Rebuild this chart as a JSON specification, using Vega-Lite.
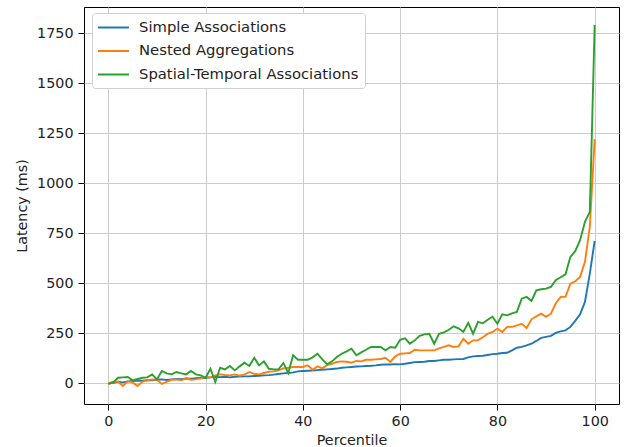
{
  "$schema": "https://vega.github.io/schema/vega-lite/v6.json",
  "width": 535,
  "height": 397,
  "autosize": {"type": "none"},
  "padding": {"left": 84, "top": 7, "right": 11, "bottom": 43},
  "background": "white",
  "config": {
    "view": {"stroke": "black", "strokeWidth": 1},
    "font": "DejaVu Sans"
  },
  "data": {
    "values": [
      {"p": 0, "Simple Associations": 0, "Nested Aggregations": 0, "Spatial-Temporal Associations": -3},
      {"p": 1, "Simple Associations": 3, "Nested Aggregations": 8, "Spatial-Temporal Associations": 5},
      {"p": 2, "Simple Associations": 8, "Nested Aggregations": 8, "Spatial-Temporal Associations": 28},
      {"p": 3, "Simple Associations": 5, "Nested Aggregations": -13, "Spatial-Temporal Associations": 30},
      {"p": 4, "Simple Associations": 10, "Nested Aggregations": 10, "Spatial-Temporal Associations": 32},
      {"p": 5, "Simple Associations": 12, "Nested Aggregations": 5, "Spatial-Temporal Associations": 15},
      {"p": 6, "Simple Associations": 14, "Nested Aggregations": -13, "Spatial-Temporal Associations": 22},
      {"p": 7, "Simple Associations": 13, "Nested Aggregations": 8, "Spatial-Temporal Associations": 28},
      {"p": 8, "Simple Associations": 16, "Nested Aggregations": 15, "Spatial-Temporal Associations": 30},
      {"p": 9, "Simple Associations": 15, "Nested Aggregations": 20, "Spatial-Temporal Associations": 45},
      {"p": 10, "Simple Associations": 18, "Nested Aggregations": 18, "Spatial-Temporal Associations": 20},
      {"p": 11, "Simple Associations": 20, "Nested Aggregations": -3, "Spatial-Temporal Associations": 62},
      {"p": 12, "Simple Associations": 17, "Nested Aggregations": 8, "Spatial-Temporal Associations": 50},
      {"p": 13, "Simple Associations": 20, "Nested Aggregations": 18, "Spatial-Temporal Associations": 45},
      {"p": 14, "Simple Associations": 22, "Nested Aggregations": 20, "Spatial-Temporal Associations": 57},
      {"p": 15, "Simple Associations": 21, "Nested Aggregations": 15, "Spatial-Temporal Associations": 50},
      {"p": 16, "Simple Associations": 24, "Nested Aggregations": 25, "Spatial-Temporal Associations": 45},
      {"p": 17, "Simple Associations": 23, "Nested Aggregations": 18, "Spatial-Temporal Associations": 62},
      {"p": 18, "Simple Associations": 26, "Nested Aggregations": 20, "Spatial-Temporal Associations": 45},
      {"p": 19, "Simple Associations": 28, "Nested Aggregations": 25, "Spatial-Temporal Associations": 40},
      {"p": 20, "Simple Associations": 27, "Nested Aggregations": 32, "Spatial-Temporal Associations": 28},
      {"p": 21, "Simple Associations": 30, "Nested Aggregations": 30, "Spatial-Temporal Associations": 73},
      {"p": 22, "Simple Associations": 32, "Nested Aggregations": 40, "Spatial-Temporal Associations": 7},
      {"p": 23, "Simple Associations": 31, "Nested Aggregations": 45, "Spatial-Temporal Associations": 78},
      {"p": 24, "Simple Associations": 33, "Nested Aggregations": 42, "Spatial-Temporal Associations": 70},
      {"p": 25, "Simple Associations": 30, "Nested Aggregations": 40, "Spatial-Temporal Associations": 87},
      {"p": 26, "Simple Associations": 33, "Nested Aggregations": 45, "Spatial-Temporal Associations": 65},
      {"p": 27, "Simple Associations": 34, "Nested Aggregations": 38, "Spatial-Temporal Associations": 85},
      {"p": 28, "Simple Associations": 35, "Nested Aggregations": 45, "Spatial-Temporal Associations": 103},
      {"p": 29, "Simple Associations": 35, "Nested Aggregations": 57, "Spatial-Temporal Associations": 87},
      {"p": 30, "Simple Associations": 37, "Nested Aggregations": 48, "Spatial-Temporal Associations": 128},
      {"p": 31, "Simple Associations": 38, "Nested Aggregations": 45, "Spatial-Temporal Associations": 90},
      {"p": 32, "Simple Associations": 40, "Nested Aggregations": 52, "Spatial-Temporal Associations": 110},
      {"p": 33, "Simple Associations": 41, "Nested Aggregations": 58, "Spatial-Temporal Associations": 73},
      {"p": 34, "Simple Associations": 44, "Nested Aggregations": 60, "Spatial-Temporal Associations": 70},
      {"p": 35, "Simple Associations": 47, "Nested Aggregations": 65, "Spatial-Temporal Associations": 70},
      {"p": 36, "Simple Associations": 50, "Nested Aggregations": 75, "Spatial-Temporal Associations": 102},
      {"p": 37, "Simple Associations": 52, "Nested Aggregations": 78, "Spatial-Temporal Associations": 52},
      {"p": 38, "Simple Associations": 55, "Nested Aggregations": 82, "Spatial-Temporal Associations": 140},
      {"p": 39, "Simple Associations": 60, "Nested Aggregations": 82, "Spatial-Temporal Associations": 118},
      {"p": 40, "Simple Associations": 62, "Nested Aggregations": 82, "Spatial-Temporal Associations": 118},
      {"p": 41, "Simple Associations": 63, "Nested Aggregations": 90, "Spatial-Temporal Associations": 118},
      {"p": 42, "Simple Associations": 64, "Nested Aggregations": 68, "Spatial-Temporal Associations": 130},
      {"p": 43, "Simple Associations": 66, "Nested Aggregations": 85, "Spatial-Temporal Associations": 148},
      {"p": 44, "Simple Associations": 68, "Nested Aggregations": 75, "Spatial-Temporal Associations": 120},
      {"p": 45, "Simple Associations": 70, "Nested Aggregations": 92, "Spatial-Temporal Associations": 95},
      {"p": 46, "Simple Associations": 72, "Nested Aggregations": 98, "Spatial-Temporal Associations": 110},
      {"p": 47, "Simple Associations": 74, "Nested Aggregations": 107, "Spatial-Temporal Associations": 132},
      {"p": 48, "Simple Associations": 78, "Nested Aggregations": 110, "Spatial-Temporal Associations": 148},
      {"p": 49, "Simple Associations": 80, "Nested Aggregations": 108, "Spatial-Temporal Associations": 160},
      {"p": 50, "Simple Associations": 82, "Nested Aggregations": 103, "Spatial-Temporal Associations": 173},
      {"p": 51, "Simple Associations": 84, "Nested Aggregations": 112, "Spatial-Temporal Associations": 140},
      {"p": 52, "Simple Associations": 85, "Nested Aggregations": 110, "Spatial-Temporal Associations": 155},
      {"p": 53, "Simple Associations": 87, "Nested Aggregations": 118, "Spatial-Temporal Associations": 168},
      {"p": 54, "Simple Associations": 88, "Nested Aggregations": 118, "Spatial-Temporal Associations": 182},
      {"p": 55, "Simple Associations": 90, "Nested Aggregations": 120, "Spatial-Temporal Associations": 182},
      {"p": 56, "Simple Associations": 93, "Nested Aggregations": 122, "Spatial-Temporal Associations": 182},
      {"p": 57, "Simple Associations": 95, "Nested Aggregations": 128, "Spatial-Temporal Associations": 165},
      {"p": 58, "Simple Associations": 94, "Nested Aggregations": 107, "Spatial-Temporal Associations": 182},
      {"p": 59, "Simple Associations": 96, "Nested Aggregations": 135, "Spatial-Temporal Associations": 178},
      {"p": 60, "Simple Associations": 95, "Nested Aggregations": 148, "Spatial-Temporal Associations": 218},
      {"p": 61, "Simple Associations": 98, "Nested Aggregations": 150, "Spatial-Temporal Associations": 225},
      {"p": 62, "Simple Associations": 102, "Nested Aggregations": 152, "Spatial-Temporal Associations": 198},
      {"p": 63, "Simple Associations": 106, "Nested Aggregations": 168, "Spatial-Temporal Associations": 215},
      {"p": 64, "Simple Associations": 107, "Nested Aggregations": 165, "Spatial-Temporal Associations": 238},
      {"p": 65, "Simple Associations": 108, "Nested Aggregations": 165, "Spatial-Temporal Associations": 245},
      {"p": 66, "Simple Associations": 112, "Nested Aggregations": 165, "Spatial-Temporal Associations": 248},
      {"p": 67, "Simple Associations": 112, "Nested Aggregations": 165, "Spatial-Temporal Associations": 198},
      {"p": 68, "Simple Associations": 115, "Nested Aggregations": 175, "Spatial-Temporal Associations": 248},
      {"p": 69, "Simple Associations": 118, "Nested Aggregations": 182, "Spatial-Temporal Associations": 255},
      {"p": 70, "Simple Associations": 118, "Nested Aggregations": 190, "Spatial-Temporal Associations": 268},
      {"p": 71, "Simple Associations": 120, "Nested Aggregations": 182, "Spatial-Temporal Associations": 285},
      {"p": 72, "Simple Associations": 121, "Nested Aggregations": 185, "Spatial-Temporal Associations": 275},
      {"p": 73, "Simple Associations": 122, "Nested Aggregations": 223, "Spatial-Temporal Associations": 257},
      {"p": 74, "Simple Associations": 130, "Nested Aggregations": 198, "Spatial-Temporal Associations": 302},
      {"p": 75, "Simple Associations": 135, "Nested Aggregations": 215, "Spatial-Temporal Associations": 248},
      {"p": 76, "Simple Associations": 137, "Nested Aggregations": 215, "Spatial-Temporal Associations": 307},
      {"p": 77, "Simple Associations": 138, "Nested Aggregations": 230, "Spatial-Temporal Associations": 300},
      {"p": 78, "Simple Associations": 142, "Nested Aggregations": 248, "Spatial-Temporal Associations": 318},
      {"p": 79, "Simple Associations": 146, "Nested Aggregations": 257, "Spatial-Temporal Associations": 333},
      {"p": 80, "Simple Associations": 148, "Nested Aggregations": 273, "Spatial-Temporal Associations": 298},
      {"p": 81, "Simple Associations": 152, "Nested Aggregations": 257, "Spatial-Temporal Associations": 345},
      {"p": 82, "Simple Associations": 153, "Nested Aggregations": 282, "Spatial-Temporal Associations": 340},
      {"p": 83, "Simple Associations": 165, "Nested Aggregations": 282, "Spatial-Temporal Associations": 350},
      {"p": 84, "Simple Associations": 178, "Nested Aggregations": 290, "Spatial-Temporal Associations": 357},
      {"p": 85, "Simple Associations": 182, "Nested Aggregations": 298, "Spatial-Temporal Associations": 423},
      {"p": 86, "Simple Associations": 190, "Nested Aggregations": 277, "Spatial-Temporal Associations": 432},
      {"p": 87, "Simple Associations": 198, "Nested Aggregations": 320, "Spatial-Temporal Associations": 412},
      {"p": 88, "Simple Associations": 212, "Nested Aggregations": 335, "Spatial-Temporal Associations": 465},
      {"p": 89, "Simple Associations": 227, "Nested Aggregations": 348, "Spatial-Temporal Associations": 470},
      {"p": 90, "Simple Associations": 232, "Nested Aggregations": 332, "Spatial-Temporal Associations": 473},
      {"p": 91, "Simple Associations": 237, "Nested Aggregations": 348, "Spatial-Temporal Associations": 482},
      {"p": 92, "Simple Associations": 252, "Nested Aggregations": 400, "Spatial-Temporal Associations": 515},
      {"p": 93, "Simple Associations": 260, "Nested Aggregations": 432, "Spatial-Temporal Associations": 530},
      {"p": 94, "Simple Associations": 265, "Nested Aggregations": 432, "Spatial-Temporal Associations": 545},
      {"p": 95, "Simple Associations": 282, "Nested Aggregations": 498, "Spatial-Temporal Associations": 632},
      {"p": 96, "Simple Associations": 312, "Nested Aggregations": 510, "Spatial-Temporal Associations": 660},
      {"p": 97, "Simple Associations": 345, "Nested Aggregations": 532, "Spatial-Temporal Associations": 715},
      {"p": 98, "Simple Associations": 407, "Nested Aggregations": 607, "Spatial-Temporal Associations": 807},
      {"p": 99, "Simple Associations": 548, "Nested Aggregations": 782, "Spatial-Temporal Associations": 857},
      {"p": 100, "Simple Associations": 712, "Nested Aggregations": 1220, "Spatial-Temporal Associations": 1790}
    ]
  },
  "transform": [
    {"fold": ["Simple Associations", "Nested Aggregations", "Spatial-Temporal Associations"], "as": ["series", "latency"]}
  ],
  "mark": {"type": "line", "strokeWidth": 1.9, "clip": true},
  "encoding": {
    "x": {
      "field": "p",
      "type": "quantitative",
      "scale": {"domain": [-5, 105], "nice": false, "zero": false},
      "axis": {
        "values": [0, 20, 40, 60, 80, 100],
        "format": "d",
        "title": "Percentile",
        "grid": true,
        "gridColor": "#cccccc",
        "gridWidth": 1,
        "domain": false,
        "tickColor": "black",
        "tickSize": 6,
        "labelPadding": 4,
        "labelFontSize": 14.3,
        "labelColor": "#222222",
        "titleFontSize": 14.3,
        "titleFontWeight": "normal",
        "titleColor": "#222222",
        "titlePadding": 5
      }
    },
    "y": {
      "field": "latency",
      "type": "quantitative",
      "scale": {"domain": [-103, 1880], "nice": false, "zero": false},
      "axis": {
        "values": [0, 250, 500, 750, 1000, 1250, 1500, 1750],
        "format": "d",
        "title": "Latency (ms)",
        "grid": true,
        "gridColor": "#cccccc",
        "gridWidth": 1,
        "domain": false,
        "tickColor": "black",
        "tickSize": 6,
        "labelPadding": 5,
        "labelFontSize": 14.3,
        "labelColor": "#222222",
        "titleFontSize": 14.3,
        "titleFontWeight": "normal",
        "titleColor": "#222222",
        "titlePadding": 7
      }
    },
    "color": {
      "field": "series",
      "type": "nominal",
      "sort": ["Simple Associations", "Nested Aggregations", "Spatial-Temporal Associations"],
      "scale": {
        "domain": ["Simple Associations", "Nested Aggregations", "Spatial-Temporal Associations"],
        "range": ["#1f77b4", "#ff7f0e", "#2ca02c"]
      },
      "legend": {
        "title": null,
        "orient": "none",
        "legendX": 8,
        "legendY": 6,
        "symbolType": "M-1.13,0H3",
        "symbolSize": 225,
        "symbolStrokeWidth": 2,
        "labelFontSize": 14.8,
        "labelColor": "#222222",
        "labelOffset": 24,
        "labelLimit": 400,
        "padding": 6,
        "rowPadding": 7.5,
        "fillColor": "white",
        "strokeColor": "#d0d0d0",
        "cornerRadius": 3
      }
    }
  }
}
